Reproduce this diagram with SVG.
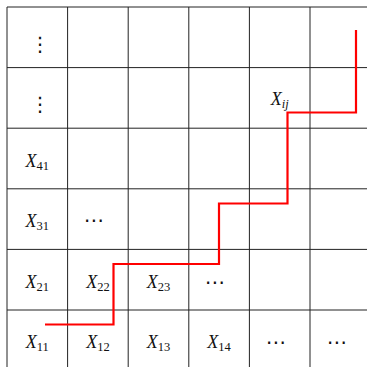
<svg xmlns="http://www.w3.org/2000/svg" width="367" height="367" viewBox="0 0 367 367">
<style>
.grid line{stroke:#222;stroke-width:1}
.lbl{font-family:"Liberation Serif","DejaVu Serif",serif;font-size:18px;fill:#111;text-anchor:middle}
.x{font-style:italic}
.s{font-size:12.5px}
.si{font-size:12.5px;font-style:italic}
.dots{font-family:"DejaVu Serif","DejaVu Sans",serif;font-size:20px;fill:#111;text-anchor:middle}
</style>
<rect width="367" height="367" fill="#fff"/>
<g id="grid" class="grid">
<line x1="7" y1="7" x2="7" y2="367"/>
<line x1="67.6" y1="7" x2="67.6" y2="367"/>
<line x1="128.2" y1="7" x2="128.2" y2="367"/>
<line x1="188.8" y1="7" x2="188.8" y2="367"/>
<line x1="249.4" y1="7" x2="249.4" y2="367"/>
<line x1="310" y1="7" x2="310" y2="367"/>
<line x1="7" y1="7" x2="367" y2="7"/>
<line x1="7" y1="67.6" x2="367" y2="67.6"/>
<line x1="7" y1="128.2" x2="367" y2="128.2"/>
<line x1="7" y1="188.8" x2="367" y2="188.8"/>
<line x1="7" y1="249.4" x2="367" y2="249.4"/>
<line x1="7" y1="310" x2="367" y2="310"/>
</g>
<g id="connectors">
<polyline points="45,324.5 113.5,324.5 113.5,264 219,264 219,203.5 287.5,203.5 287.5,112.5 356,112.5 356,30" fill="none" stroke="#ff0000" stroke-width="2.2"/>
</g>
<g id="labels">
<text class="dots" x="40" y="51">⋮</text>
<text class="dots" x="40" y="111">⋮</text>
<text class="lbl" x="37.3" y="166.5"><tspan class="x">X</tspan><tspan class="s" dy="3">41</tspan></text>
<text class="lbl" x="37.3" y="227"><tspan class="x">X</tspan><tspan class="s" dy="3">31</tspan></text>
<text class="dots" x="94" y="227">⋯</text>
<text class="lbl" x="37.3" y="287.5"><tspan class="x">X</tspan><tspan class="s" dy="3">21</tspan></text>
<text class="lbl" x="97.9" y="287.5"><tspan class="x">X</tspan><tspan class="s" dy="3">22</tspan></text>
<text class="lbl" x="158.5" y="287.5"><tspan class="x">X</tspan><tspan class="s" dy="3">23</tspan></text>
<text class="dots" x="215" y="289">⋯</text>
<text class="lbl" x="37.3" y="348"><tspan class="x">X</tspan><tspan class="s" dy="3">11</tspan></text>
<text class="lbl" x="97.9" y="348"><tspan class="x">X</tspan><tspan class="s" dy="3">12</tspan></text>
<text class="lbl" x="158.5" y="348"><tspan class="x">X</tspan><tspan class="s" dy="3">13</tspan></text>
<text class="lbl" x="219.1" y="348"><tspan class="x">X</tspan><tspan class="s" dy="3">14</tspan></text>
<text class="dots" x="276" y="349">⋯</text>
<text class="dots" x="337" y="349">⋯</text>
<text class="lbl" x="279.7" y="105"><tspan class="x">X</tspan><tspan class="si" dy="3">ij</tspan></text>
</g>
</svg>
